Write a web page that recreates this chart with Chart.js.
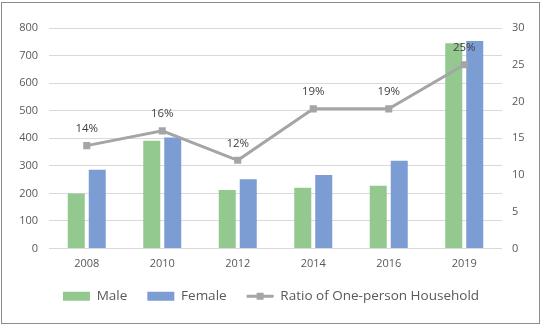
<!DOCTYPE html>
<html>
<head>
<meta charset="utf-8">
<script src="https://cdn.jsdelivr.net/npm/chart.js@4"></script>
<style>
  html, body { margin: 0; padding: 0; background: #fff; }
  #wrap { position: relative; width: 542px; height: 327px; }
  #frame {
    position: absolute; left: 1px; top: 2px; width: 537px; height: 320px;
    border: 1px solid #8c8c8c; pointer-events: none;
  }
</style>
</head>
<body>
<div id="wrap">
  <canvas id="chart" width="542" height="327"></canvas>
  <div id="frame"></div>
</div>
<script>
// 年份与各序列
const years = ['2008', '2010', '2012', '2014', '2016', '2019'];
const maleValues = [200, 391, 212, 220, 228, 745];
const femaleValues = [286, 403, 251, 267, 318, 753];
const ratioValues = [14, 16, 12, 19, 19, 25];
const leftTicks = [0, 100, 200, 300, 400, 500, 600, 700, 800];
const rightTicks = [0, 5, 10, 15, 20, 25, 30];

const FONT = '"Open Sans", "DejaVu Sans", sans-serif';
const TEXT = '#595959';
const LINE_COLOR = '#a5a5a5';

// 折线数据标签 + 图例中折线的方块标记
const ratioLabels = {
  id: 'ratioLabels',
  afterDatasetsDraw(chart) {
    const meta = chart.getDatasetMeta(2);
    const ctx = chart.ctx;
    ctx.save();
    ctx.font = '11.5px ' + FONT;
    ctx.fillStyle = '#404040';
    ctx.textAlign = 'center';
    ctx.textBaseline = 'middle';
    meta.data.forEach((pt, i) => {
      ctx.fillText(ratioValues[i] + '%', pt.x, pt.y - 17);
    });
    ctx.restore();
  },
  afterDraw(chart) {
    const legend = chart.legend;
    if (!legend || !legend.legendHitBoxes) return;
    const box = legend.legendHitBoxes[2];
    if (!box) return;
    const ctx = chart.ctx;
    const cx = box.left + 27 / 2;
    const cy = box.top + box.height / 2;
    ctx.save();
    ctx.fillStyle = LINE_COLOR;
    ctx.fillRect(cx - 3.5, cy - 3.5, 7, 7);
    ctx.restore();
  }
};

new Chart(document.getElementById('chart'), {
  data: {
    labels: years,
    datasets: [
      {
        type: 'bar',
        label: 'Male',
        data: maleValues,
        backgroundColor: '#93c98f',
        yAxisID: 'y',
        order: 1,
        categoryPercentage: 0.556,
        barPercentage: 0.81
      },
      {
        type: 'bar',
        label: 'Female',
        data: femaleValues,
        backgroundColor: '#7b9dd3',
        yAxisID: 'y',
        order: 1,
        categoryPercentage: 0.556,
        barPercentage: 0.81
      },
      {
        type: 'line',
        label: 'Ratio of One-person Household',
        data: ratioValues,
        borderColor: LINE_COLOR,
        backgroundColor: LINE_COLOR,
        borderWidth: 3,
        pointStyle: 'rect',
        pointRadius: 5,
        pointBackgroundColor: LINE_COLOR,
        pointBorderWidth: 0,
        tension: 0,
        yAxisID: 'y1',
        order: 0
      }
    ]
  },
  options: {
    responsive: false,
    animation: false,
    layout: { padding: { top: 28, left: 0, right: 0, bottom: 14 } },
    plugins: {
      tooltip: { enabled: false },
      legend: {
        position: 'bottom',
        labels: {
          usePointStyle: true,
          pointStyleWidth: 27,
          boxHeight: 9,
          padding: 20,
          color: TEXT,
          font: { family: FONT, size: 13.5 },
          sort: (a, b) => a.datasetIndex - b.datasetIndex,
          generateLabels(chart) {
            return chart.data.datasets.map((ds, i) => ({
              text: ds.label,
              datasetIndex: i,
              fillStyle: ds.type === 'line' ? LINE_COLOR : ds.backgroundColor,
              strokeStyle: ds.type === 'line' ? LINE_COLOR : ds.backgroundColor,
              lineWidth: ds.type === 'line' ? 3 : 0,
              pointStyle: ds.type === 'line' ? 'line' : 'rect',
              fontColor: TEXT,
              hidden: false
            }));
          }
        }
      }
    },
    scales: {
      x: {
        grid: { display: false, drawTicks: false },
        border: { display: false },
        ticks: { color: TEXT, font: { family: FONT, size: 11 }, padding: 9 },
        afterFit(scale) { scale.height = 21; }
      },
      y: {
        position: 'left',
        min: 0,
        max: 800,
        afterBuildTicks(scale) { scale.ticks = leftTicks.map(v => ({ value: v })); },
        grid: { color: '#d9d9d9', drawTicks: false },
        border: { display: false },
        ticks: { color: TEXT, font: { family: FONT, size: 11 }, padding: 11 },
        afterFit(scale) { scale.width = 49; }
      },
      y1: {
        position: 'right',
        min: 0,
        max: 30,
        afterBuildTicks(scale) { scale.ticks = rightTicks.map(v => ({ value: v })); },
        grid: { display: false, drawTicks: false },
        border: { display: false },
        ticks: { color: TEXT, font: { family: FONT, size: 11 }, padding: 10 },
        afterFit(scale) { scale.width = 40; }
      }
    }
  },
  plugins: [ratioLabels]
});
</script>
</body>
</html>
